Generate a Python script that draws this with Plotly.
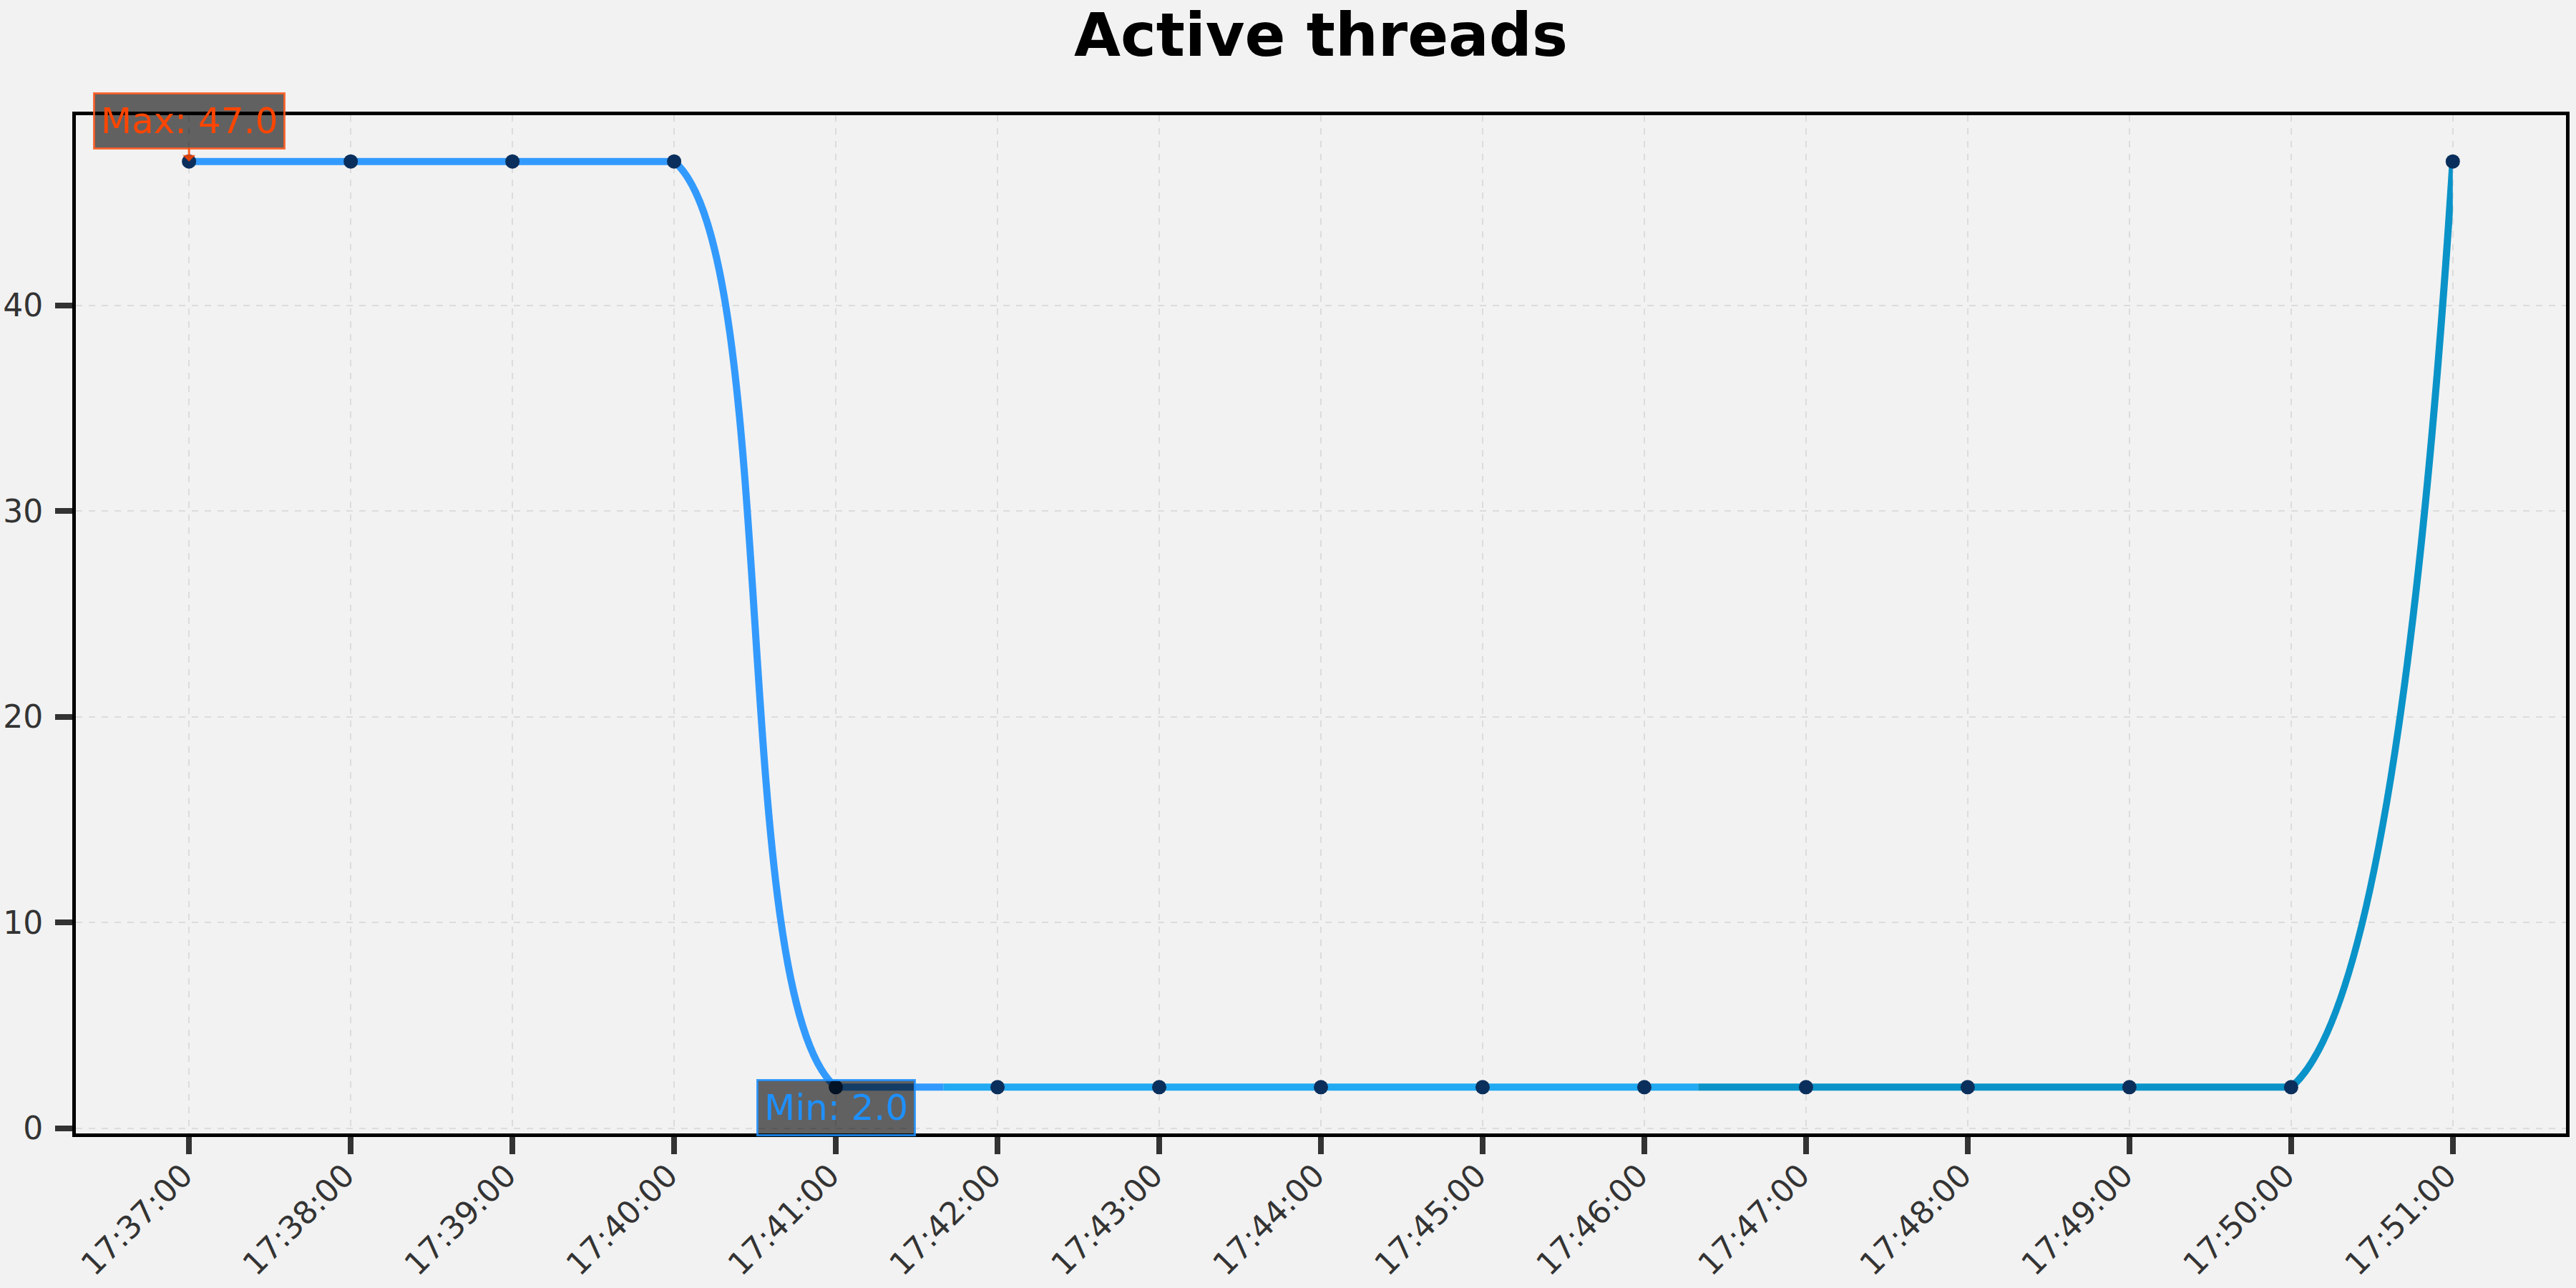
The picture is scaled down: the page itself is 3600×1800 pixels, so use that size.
import pandas as pd
import plotly.graph_objects as go

# ---------------- data ----------------
time_labels = ["17:37:00", "17:38:00", "17:39:00", "17:40:00", "17:41:00",
               "17:42:00", "17:43:00", "17:44:00", "17:45:00", "17:46:00",
               "17:47:00", "17:48:00", "17:49:00", "17:50:00", "17:51:00"]
active_threads = [47, 47, 47, 47, 2, 2, 2, 2, 2, 2, 2, 2, 2, 2, 47]
y_tick_values = [0, 10, 20, 30, 40]
chart_title = "Active threads"

# ---------------- style ----------------
W, H = 3600, 1800
BG = "#f2f2f2"
FONT = "DejaVu Sans"
SEG_COLORS = ["#339afd", "#22aaf2", "#0a93c8"]
MARKER_COLOR = "#0b2f5c"
LINE_W = 10
TICK_COLOR = "#333333"
GRID_COLOR = "#dcdcdc"

times = pd.to_datetime(["2024-01-01 " + s for s in time_labels])
n = len(times)
t0, tN = times[0], times[-1]
span = tN - t0
xmin, xmax = t0 - span * 0.05, tN + span * 0.05
vmin, vmax = min(active_threads), max(active_threads)
ymin, ymax = vmin - 0.05 * (vmax - vmin), vmax + 0.05 * (vmax - vmin)


def iso(ts):
    return ts.strftime("%Y-%m-%d %H:%M:%S.%f")[:-3]


def frac(ts):
    return float((ts - xmin) / (xmax - xmin))


bounds = [t0 + span * k / 3 for k in (1, 2)]


def third(ts):
    return int(sum(ts >= b for b in bounds))


fig = go.Figure()

# flat (constant) pieces drawn on the main axes, coloured by thirds of the span
flat_x = {0: [], 1: [], 2: []}
flat_y = {0: [], 1: [], 2: []}
for i in range(n - 1):
    if active_threads[i] != active_threads[i + 1]:
        continue
    a, b = times[i], times[i + 1]
    cuts = [a] + [c for c in bounds if a < c < b] + [b]
    for p, q in zip(cuts[:-1], cuts[1:]):
        k = third(p + (q - p) / 2)
        flat_x[k] += [iso(p), iso(q), None]
        flat_y[k] += [active_threads[i], active_threads[i], None]
for k in range(3):
    if flat_x[k]:
        fig.add_trace(go.Scatter(x=flat_x[k], y=flat_y[k], mode="lines",
                                 line=dict(color=SEG_COLORS[k], width=LINE_W),
                                 showlegend=False, hoverinfo="skip",
                                 xaxis="x", yaxis="y"))

axes = {}
sub = 1
# transitions: smooth spline, each on its own subplot clipped to its interval
for i in range(n - 1):
    if active_threads[i] == active_threads[i + 1]:
        continue
    sub += 1
    lo, hi = max(0, i - 1), min(n - 1, i + 2)
    k = third(times[i] + (times[i + 1] - times[i]) / 2)
    fig.add_trace(go.Scatter(
        x=[iso(t) for t in times[lo:hi + 1]], y=active_threads[lo:hi + 1],
        mode="lines",
        line=dict(shape="spline", smoothing=1, width=LINE_W,
                  color=SEG_COLORS[k], simplify=False),
        showlegend=False, hoverinfo="skip",
        xaxis=f"x{sub}", yaxis=f"y{sub}"))
    axes[f"xaxis{sub}"] = dict(domain=[frac(times[i]), frac(times[i + 1])],
                               range=[iso(times[i]), iso(times[i + 1])],
                               type="date", visible=False, anchor=f"y{sub}",
                               automargin=False)
    axes[f"yaxis{sub}"] = dict(domain=[0, 1], range=[ymin, ymax],
                               visible=False, anchor=f"x{sub}",
                               automargin=False)

# markers on top
sub += 1
fig.add_trace(go.Scatter(
    x=[iso(t) for t in times], y=active_threads, mode="markers",
    marker=dict(size=20, color=MARKER_COLOR),
    cliponaxis=False, showlegend=False,
    xaxis=f"x{sub}", yaxis=f"y{sub}"))
axes[f"xaxis{sub}"] = dict(domain=[0, 1], range=[iso(xmin), iso(xmax)],
                           type="date", visible=False, anchor=f"y{sub}",
                           automargin=False)
axes[f"yaxis{sub}"] = dict(domain=[0, 1], range=[ymin, ymax],
                           visible=False, anchor=f"x{sub}", automargin=False)

imax = active_threads.index(vmax)
imin = active_threads.index(vmin)

annotations = [
    dict(x=iso(times[imax]), y=vmax, xref="x", yref="y",
         text=f"Max: {vmax:.1f}", showarrow=True, ax=0, ay=-57,
         arrowhead=1, arrowwidth=3, arrowcolor="rgba(255,69,0,0.85)",
         font=dict(family=FONT, size=50, color="#ff4500"),
         bgcolor="rgba(0,0,0,0.6)", bordercolor="rgba(255,90,30,0.85)",
         borderwidth=3, borderpad=8),
    dict(x=iso(times[imin]), y=vmin, xref="x", yref="y",
         text=f"Min: {vmin:.1f}", showarrow=True, ax=0, ay=29,
         arrowhead=1, arrowwidth=3, arrowcolor="rgba(30,144,255,0.85)",
         font=dict(family=FONT, size=50, color="#1e90ff"),
         bgcolor="rgba(0,0,0,0.6)", bordercolor="rgba(30,144,255,0.85)",
         borderwidth=3, borderpad=8),
]

axis_common = dict(
    showgrid=True, gridcolor=GRID_COLOR, griddash="dash", gridwidth=2,
    showline=True, linecolor="black", linewidth=5, mirror=True,
    zeroline=False, ticks="outside", ticklen=24, tickwidth=8,
    tickcolor=TICK_COLOR, tickfont=dict(family=FONT, size=44, color=TICK_COLOR),
    automargin=False,
)

fig.update_layout(
    width=W, height=H,
    margin=dict(l=106, r=14, t=161, b=216),
    paper_bgcolor=BG, plot_bgcolor="rgba(0,0,0,0)",
    font=dict(family=FONT),
    title=dict(text=f"<b>{chart_title}</b>", x=0.5, xanchor="center",
               xref="paper", y=1 - 49 / H, yanchor="middle", yref="container",
               font=dict(family=FONT, size=84, color="black"),
               automargin=False),
    xaxis=dict(type="date", domain=[0, 1], range=[iso(xmin), iso(xmax)],
               tickvals=[iso(t) for t in times], ticktext=time_labels,
               tickangle=-45, ticklabelstandoff=-14, ticklabelshift=-8,
               **axis_common),
    yaxis=dict(domain=[0, 1], range=[ymin, ymax], tickvals=y_tick_values,
               ticklabelstandoff=8, **axis_common),
    annotations=annotations,
    **axes,
)

fig.write_html("out.html",
               config={"displayModeBar": False},
               post_script="document.body.style.margin='0px';"
                           "document.body.style.overflow='hidden';")
